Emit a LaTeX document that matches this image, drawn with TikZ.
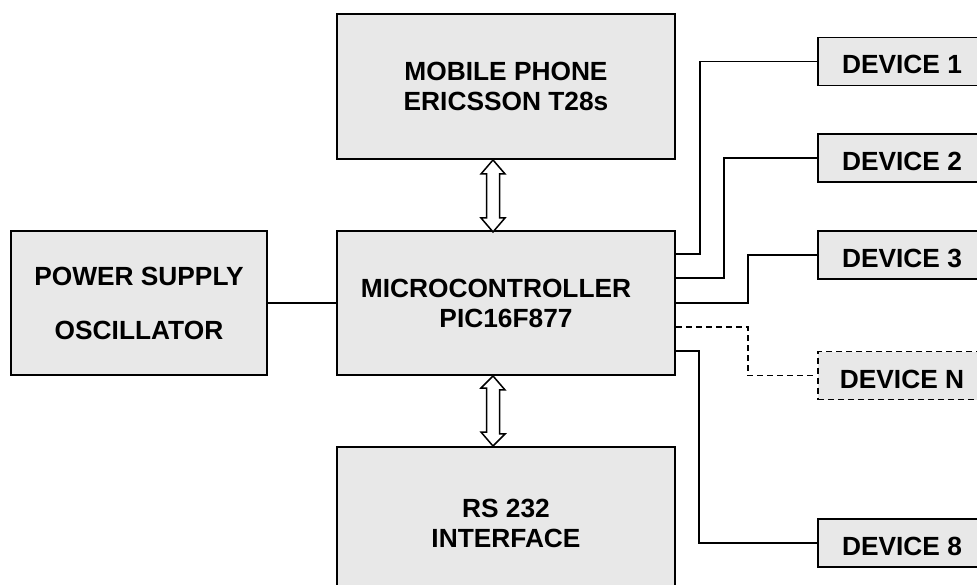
\documentclass[tikz,border=0pt]{standalone}
\usepackage{fontspec}
\setmainfont{Liberation Sans}
\usetikzlibrary{calc}
\definecolor{boxgray}{HTML}{E8E8E8}
\begin{document}
\begin{tikzpicture}[x=1pt,y=-1pt,
  box/.style={draw, line width=1.9pt, fill=boxgray, inner sep=0pt,
    font=\fontsize{26.3}{30}\selectfont\bfseries, align=center},
  devbox/.style={box, minimum width=168pt, minimum height=48pt,
    text height=25pt, text depth=0pt},
  wire/.style={line width=1.6pt},
  dwire/.style={wire, dash pattern=on 6pt off 4pt},
  bus/.style={line width=1.5pt, fill=white, line join=miter}]
\useasboundingbox (0,0) rectangle (977,585);

\node[box, minimum width=338pt, minimum height=145pt] (mobile) at (506,86.5)
  {MOBILE PHONE\\ERICSSON T28s};
\node[box, minimum width=338pt, minimum height=144pt] (micro) at (506,303)
  {MICROCONTROLLER\hspace*{20pt}\\PIC16F877};
\node[box, minimum width=256pt, minimum height=144pt,
  font=\fontsize{26.3}{54}\selectfont\bfseries] (power) at (139,303)
  {POWER SUPPLY\\OSCILLATOR};
\node[box, minimum width=338pt, minimum height=152pt] (rs) at (506,523)
  {RS 232\\INTERFACE};

\node[devbox] (d1) at (902,61.5) {DEVICE 1};
\node[devbox] (d2) at (902,158) {DEVICE 2};
\node[devbox] (d3) at (902,255) {DEVICE 3};
\node[devbox, dash pattern=on 6pt off 4pt] (dn) at (902,375.5) {DEVICE N};
\node[devbox] (d8) at (902,543) {DEVICE 8};

% power connection
\draw[wire] (power.east) -- (micro.west);

% device connections
\draw[wire] ([yshift=49pt]micro.east) -- ++(24,0) |- (d1.west);
\draw[wire] ([yshift=25pt]micro.east) -- ++(48,0) |- (d2.west);
\draw[wire] (micro.east) -- ++(72,0) |- (d3.west);
\draw[dwire] ([yshift=-24pt]micro.east) -- ++(72,0) |- (dn.west);
\draw[wire] ([yshift=-48pt]micro.east) -- ++(23,0) |- (d8.west);

% bidirectional buses
\coordinate (b1) at ([xshift=-13pt]mobile.south);
\coordinate (b2) at ([xshift=-13pt]rs.north);
\draw[bus] (b1) -- ++(12,14) -- ++(-5.5,0) -- ++(0,44) -- ++(5.5,0)
  -- ++(-12,14) -- ++(-12,-14) -- ++(5.5,0) -- ++(0,-44) -- ++(-5.5,0) -- cycle;
\draw[bus] ([xshift=-13pt]micro.south) -- ++(12,14) -- ++(-5.5,0) -- ++(0,44) -- ++(5.5,0)
  -- (b2) -- ++(-12,-14) -- ++(5.5,0) -- ++(0,-44) -- ++(-5.5,0) -- cycle;
\end{tikzpicture}
\end{document}
